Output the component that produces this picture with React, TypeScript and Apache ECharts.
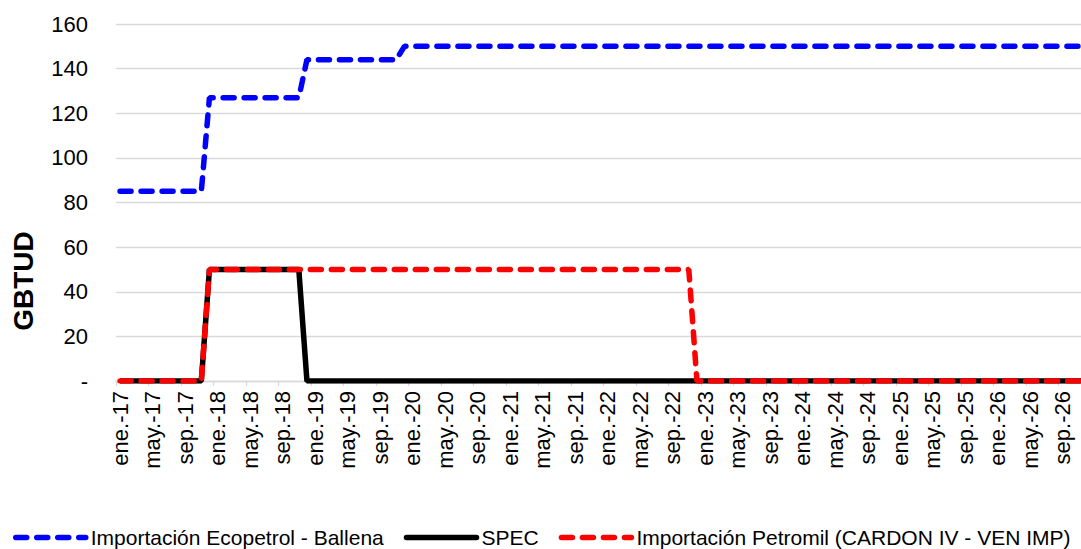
import React, { useEffect, useRef } from "react";
import * as echarts from "echarts";

// Monthly axis: ene.-17 … dic.-26
const MONTHS = ["ene.", "feb.", "mar.", "abr.", "may.", "jun.", "jul.", "ago.", "sep.", "oct.", "nov.", "dic."];
const YEARS = ["17", "18", "19", "20", "21", "22", "23", "24", "25", "26"];
const categories: string[] = [];
YEARS.forEach((y) => MONTHS.forEach((m) => categories.push(`${m}-${y}`)));

// GBTUD, one row per year
const ecopetrolBallena = [
  85, 85, 85, 85, 85, 85, 85, 85, 85, 85, 85, 127,
  127, 127, 127, 127, 127, 127, 127, 127, 127, 127, 127, 144,
  144, 144, 144, 144, 144, 144, 144, 144, 144, 144, 144, 150,
  150, 150, 150, 150, 150, 150, 150, 150, 150, 150, 150, 150,
  150, 150, 150, 150, 150, 150, 150, 150, 150, 150, 150, 150,
  150, 150, 150, 150, 150, 150, 150, 150, 150, 150, 150, 150,
  150, 150, 150, 150, 150, 150, 150, 150, 150, 150, 150, 150,
  150, 150, 150, 150, 150, 150, 150, 150, 150, 150, 150, 150,
  150, 150, 150, 150, 150, 150, 150, 150, 150, 150, 150, 150,
  150, 150, 150, 150, 150, 150, 150, 150, 150, 150, 150, 150,
];

const spec = [
  0, 0, 0, 0, 0, 0, 0, 0, 0, 0, 0, 50,
  50, 50, 50, 50, 50, 50, 50, 50, 50, 50, 50, 0,
  0, 0, 0, 0, 0, 0, 0, 0, 0, 0, 0, 0,
  0, 0, 0, 0, 0, 0, 0, 0, 0, 0, 0, 0,
  0, 0, 0, 0, 0, 0, 0, 0, 0, 0, 0, 0,
  0, 0, 0, 0, 0, 0, 0, 0, 0, 0, 0, 0,
  0, 0, 0, 0, 0, 0, 0, 0, 0, 0, 0, 0,
  0, 0, 0, 0, 0, 0, 0, 0, 0, 0, 0, 0,
  0, 0, 0, 0, 0, 0, 0, 0, 0, 0, 0, 0,
  0, 0, 0, 0, 0, 0, 0, 0, 0, 0, 0, 0,
];

const petromil = [
  0, 0, 0, 0, 0, 0, 0, 0, 0, 0, 0, 50,
  50, 50, 50, 50, 50, 50, 50, 50, 50, 50, 50, 50,
  50, 50, 50, 50, 50, 50, 50, 50, 50, 50, 50, 50,
  50, 50, 50, 50, 50, 50, 50, 50, 50, 50, 50, 50,
  50, 50, 50, 50, 50, 50, 50, 50, 50, 50, 50, 50,
  50, 50, 50, 50, 50, 50, 50, 50, 50, 50, 50, 0,
  0, 0, 0, 0, 0, 0, 0, 0, 0, 0, 0, 0,
  0, 0, 0, 0, 0, 0, 0, 0, 0, 0, 0, 0,
  0, 0, 0, 0, 0, 0, 0, 0, 0, 0, 0, 0,
  0, 0, 0, 0, 0, 0, 0, 0, 0, 0, 0, 0,
];

const SERIES_NAMES = [
  "Importación Ecopetrol - Ballena",
  "SPEC",
  "Importación Petromil (CARDON IV - VEN IMP)",
];
const SERIES_COLORS = ["#0000ff", "#000000", "#ff0000"];

const FONT = "Arial, 'Liberation Sans', sans-serif";
const GRID_COLOR = "#d9d9d9";
const DASH = [11, 10];
const LINE_W = 5.5;

export default function App() {
  const ref = useRef<HTMLDivElement>(null);

  useEffect(() => {
    if (!ref.current) return;
    const chart = echarts.init(ref.current, undefined, { renderer: "svg" });
    const dashed = (color: string) => ({ color, type: DASH, cap: "round", width: LINE_W });
    const solid = (color: string) => ({ color, type: "solid", cap: "round", width: LINE_W });
    const styles = [dashed(SERIES_COLORS[0]), solid(SERIES_COLORS[1]), dashed(SERIES_COLORS[2])];

    chart.setOption({
      animation: false,
      backgroundColor: "#ffffff",
      textStyle: { fontFamily: FONT },
      // the plot runs a little past the right edge of the window
      grid: { left: 116, right: 0, top: 24, bottom: 168 },
      legend: {
        left: 8,
        top: 522,
        itemWidth: 70,
        itemHeight: 14,
        itemGap: 20,
        itemStyle: { opacity: 0, borderWidth: 0 },
        textStyle: { fontSize: 21, color: "#000000", fontFamily: FONT },
        data: SERIES_NAMES.map((name, i) => ({ name, lineStyle: styles[i] })),
      },
      graphic: [
        {
          type: "text",
          x: 23,
          y: 281,
          rotation: Math.PI / 2,
          style: {
            text: "GBTUD",
            fontSize: 28,
            fontWeight: "bold",
            fontFamily: FONT,
            fill: "#000000",
            align: "center",
            verticalAlign: "middle",
          },
        },
      ],
      xAxis: {
        type: "category",
        data: categories,
        boundaryGap: true,
        axisLine: { show: true, lineStyle: { color: GRID_COLOR, width: 1.3 } },
        axisTick: { show: true, interval: 3, length: 5, lineStyle: { color: GRID_COLOR, width: 1.3 } },
        axisLabel: {
          interval: 3,
          rotate: 90,
          margin: 10,
          fontSize: 22,
          color: "#000000",
          fontFamily: FONT,
        },
        splitLine: { show: false },
      },
      yAxis: {
        type: "value",
        min: 0,
        max: 160,
        interval: 20,
        axisLine: { show: false },
        axisTick: { show: false },
        axisLabel: {
          margin: 28,
          fontSize: 22,
          color: "#000000",
          fontFamily: FONT,
          formatter: (v: number) => (v === 0 ? "-" : String(v)),
        },
        splitLine: { show: true, lineStyle: { color: GRID_COLOR, width: 1.3 } },
      },
      series: [
        {
          name: SERIES_NAMES[0],
          type: "line",
          data: ecopetrolBallena,
          symbol: "none",
          lineStyle: styles[0],
          itemStyle: { color: SERIES_COLORS[0] },
          z: 4,
        },
        {
          name: SERIES_NAMES[1],
          type: "line",
          data: spec,
          symbol: "none",
          lineStyle: { ...styles[1], cap: "butt" },
          itemStyle: { color: SERIES_COLORS[1] },
          z: 2,
        },
        {
          name: SERIES_NAMES[2],
          type: "line",
          data: petromil,
          symbol: "none",
          lineStyle: styles[2],
          itemStyle: { color: SERIES_COLORS[2] },
          z: 3,
        },
      ],
    });

    return () => chart.dispose();
  }, []);

  return (
    <div
      ref={ref}
      style={{ position: "fixed", left: 0, top: 0, width: 1091, height: 549 }}
    />
  );
}
